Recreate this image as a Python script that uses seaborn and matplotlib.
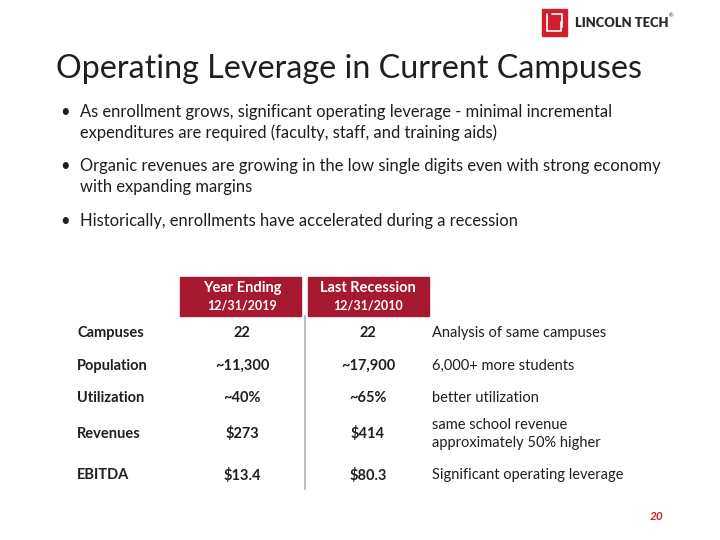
#!/usr/bin/env python3
"""Operating leverage slide: header cells + comparison table."""

import matplotlib
matplotlib.use("Agg")
import matplotlib.pyplot as plt
from matplotlib.patches import Rectangle
import seaborn as sns

# ============================== DATA ========================================
TITLE = "Operating Leverage in Current Campuses"
BULLETS = [
    ["As enrollment grows, significant operating leverage - minimal incremental",
     "expenditures are required (faculty, staff, and training aids)"],
    ["Organic revenues are growing in the low single digits even with strong economy",
     "with expanding margins"],
    ["Historically, enrollments have accelerated during a recession"],
]
HEADERS = [("Year Ending", "12/31/2019"), ("Last Recession", "12/31/2010")]
ROW_LABELS = ["Campuses", "Population", "Utilization", "Revenues", "EBITDA"]
VALUES_2019 = ["22", "~11,300", "~40%", "$273", "$13.4"]
VALUES_2010 = ["22", "~17,900", "~65%", "$414", "$80.3"]
COMMENTS = [
    "Analysis of same campuses",
    "6,000+ more students",
    "better utilization",
    "same school revenue\napproximately 50% higher",
    "Significant operating leverage",
]
PAGE = "20"
# ============================================================================

RED = "#A6192E"
TXT = "#1f1f1f"
FONT = ["Lato", "DejaVu Sans"]

sns.set_theme(style="white")
plt.rcParams["font.family"] = FONT

fig = plt.figure(figsize=(7.2, 5.4), dpi=100)
ax = fig.add_axes([0, 0, 1, 1])
ax.set_xlim(0, 720)
ax.set_ylim(540, 0)
ax.axis("off")

# logo
ax.add_patch(Rectangle((542, 9), 25, 27, color="#D0202E"))
ax.plot([547, 547, 561, 561], [14, 31, 31, 22], color="white", lw=1.2)
ax.plot([552, 562, 562], [14, 14, 27], color="white", lw=1.2)
ax.text(575, 23, "LINCOLN TECH", fontsize=9.4, fontweight="heavy",
        color="#2b2b2b", va="center", ha="left")
ax.text(669, 16, "®", fontsize=4, color="#2b2b2b", va="center")

# title
ax.text(56, 69, TITLE, fontsize=23.2, color=TXT, va="center", ha="left")

# bullets
bullet_y = [112, 166, 221]
for y0, lines in zip(bullet_y, BULLETS):
    ax.text(60, y0, "•", fontsize=12, color=TXT, va="center")
    for i, line in enumerate(lines):
        ax.text(80, y0 + i * 21, line, fontsize=11.9, color=TXT, va="center")

# header cells
col_x = [242, 368]
cell_left = [180, 308]
for (top, bottom), cx, lx in zip(HEADERS, col_x, cell_left):
    ax.add_patch(Rectangle((lx, 277), 121, 39, color=RED))
    ax.text(cx, 288, top, fontsize=10.5, fontweight="bold", color="white",
            ha="center", va="center")
    ax.text(cx, 306, bottom, fontsize=9, fontweight="bold", color="white",
            ha="center", va="center")

ax.plot([305, 305], [316, 489], color="#bfbfbf", lw=1.5)

# table rows
row_y = [333, 366, 398, 434, 475]
for y, lab, v1, v2, note in zip(row_y, ROW_LABELS, VALUES_2019, VALUES_2010, COMMENTS):
    ax.text(77, y, lab, fontsize=10.5, fontweight="bold", color=TXT, va="center")
    ax.text(col_x[0], y, v1, fontsize=10.5, fontweight="bold", color=TXT,
            ha="center", va="center")
    ax.text(col_x[1], y, v2, fontsize=10.5, fontweight="bold", color=TXT,
            ha="center", va="center")
    ax.text(432, y, note, fontsize=10.5, color=TXT, va="center",
            linespacing=1.45)

ax.text(664, 516, PAGE, fontsize=8.5, fontweight="bold", fontstyle="italic",
        color="#D0202E", ha="right", va="center")

fig.savefig("out.png", dpi=100)
